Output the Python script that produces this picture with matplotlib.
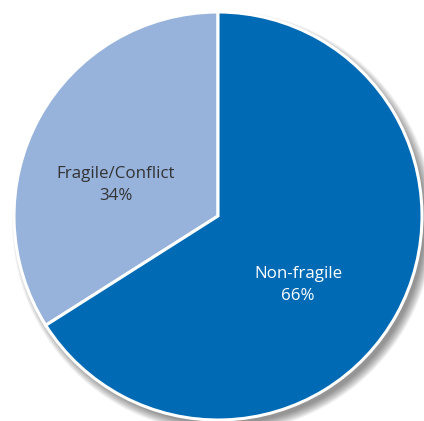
import matplotlib
matplotlib.use("Agg")
import matplotlib.pyplot as plt
from matplotlib.patches import Circle

labels = ["Fragile/Conflict", "Non-fragile"]
values = [34, 66]
colors = ["#97B3DC", "#006AB5"]
text_colors = ["#333333", "#FFFFFF"]

W, H = 424, 421
fig = plt.figure(figsize=(W / 100, H / 100), dpi=100)
ax = fig.add_axes([0, 0, 1, 1])
ax.set_xlim(0, W)
ax.set_ylim(0, H)
ax.set_aspect("equal")
ax.axis("off")

cx, cy, r = 218, H - 216, 204

# soft drop shadow
n = 14
for i in range(n):
    rr = r + 7 - i * 0.7
    ax.add_patch(Circle((cx + 5, cy - 6), rr, color="#000000", alpha=0.035, lw=0, zorder=0))

wedges, _ = ax.pie(values, colors=colors, startangle=90, counterclock=True,
                   center=(cx, cy), radius=r,
                   wedgeprops=dict(edgecolor="white", linewidth=2.2), frame=True)
ax.set_xlim(0, W)
ax.set_ylim(0, H)
ax.axis("off")
for w in wedges:
    w.set_zorder(2)

label_pos = [(116, 185), (298, 285)]
for lab, v, (x, y), tc in zip(labels, values, label_pos, text_colors):
    ax.text(x, H - y, f"{lab}\n{v}%", ha="center", va="center", color=tc,
            fontsize=12.2, family="Open Sans", linespacing=1.45, zorder=3)

fig.savefig("out.png", dpi=100)
